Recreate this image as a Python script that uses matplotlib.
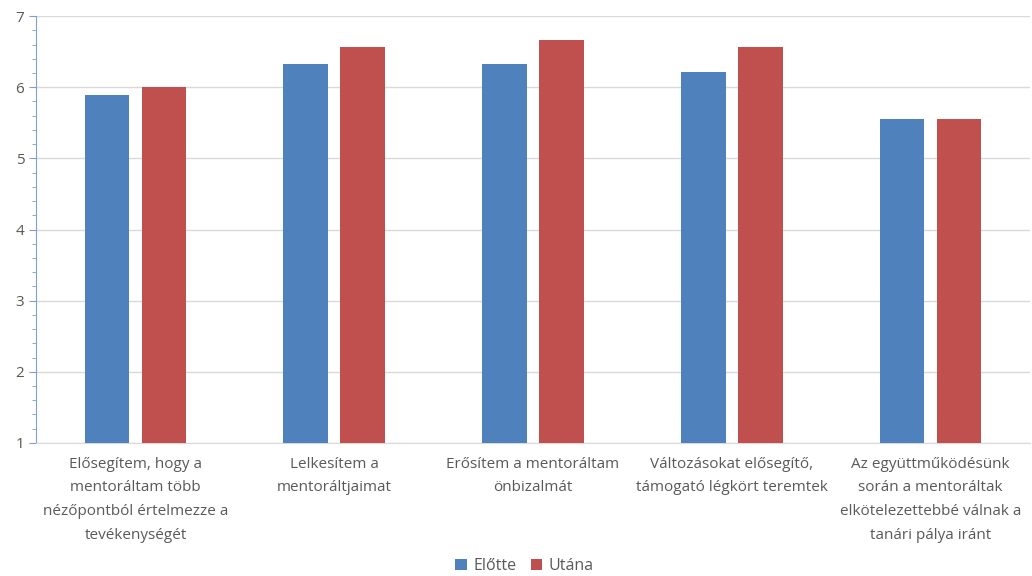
import numpy as np
import matplotlib.pyplot as plt
from matplotlib.ticker import MultipleLocator

categories = [
    "Elősegítem, hogy a\nmentoráltam több\nnézőpontból értelmezze a\ntevékenységét",
    "Lelkesítem a\nmentoráltjaimat",
    "Erősítem a mentoráltam\nönbizalmát",
    "Változásokat elősegítő,\ntámogató légkört teremtek",
    "Az együttműködésünk\nsorán a mentoráltak\nelkötelezettebbé válnak a\ntanári pálya iránt",
]
elotte = [5.89, 6.33, 6.33, 6.22, 5.56]
utana = [6.0, 6.56, 6.67, 6.56, 5.56]

plt.rcParams['font.family'] = ['Open Sans', 'DejaVu Sans']

fig = plt.figure(figsize=(10.32, 5.76), dpi=100)
ax = fig.add_axes([0.035, 0.231, 0.963, 0.741])

x = np.arange(len(categories))
w = 0.225
off = 0.143
ax.bar(x - off, np.array(elotte) - 1, w, bottom=1, color='#4F81BD', label='Előtte', zorder=3)
ax.bar(x + off, np.array(utana) - 1, w, bottom=1, color='#C0504D', label='Utána', zorder=3)

ax.set_xlim(-0.5, 4.5)
ax.set_ylim(1, 7)
ax.yaxis.set_major_locator(MultipleLocator(1))
ax.yaxis.set_minor_locator(MultipleLocator(0.2))
ax.grid(axis='y', color='#D9D9D9', linewidth=1, zorder=0)

for s in ['top', 'right']:
    ax.spines[s].set_visible(False)
ax.spines['left'].set_color('#7F9FCF')
ax.spines['bottom'].set_color('#D9D9D9')
ax.tick_params(axis='y', which='both', color='#7F9FCF', labelcolor='#595959', labelsize=11)
ax.tick_params(axis='y', which='major', length=5)
ax.tick_params(axis='y', which='minor', length=3)
ax.tick_params(axis='x', length=0, pad=10)

ax.set_xticks(x)
ax.set_xticklabels(categories, fontsize=11, color='#595959', linespacing=1.78)

fig.legend(loc='center', bbox_to_anchor=(0.508, 0.017), ncol=2, frameon=False,
           fontsize=11.5, labelcolor='#595959', handlelength=0.7, handleheight=0.7,
           handletextpad=0.4, columnspacing=0.9, borderaxespad=0, borderpad=0)

fig.savefig('out.png', dpi=100)
